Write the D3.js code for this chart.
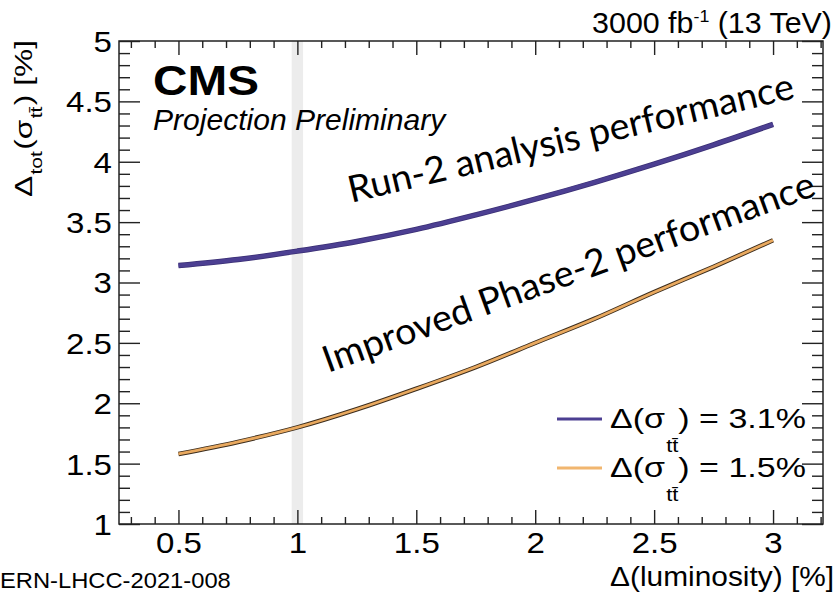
<!DOCTYPE html>
<html><head><meta charset="utf-8">
<script src="https://cdn.jsdelivr.net/npm/d3@7"></script>
<style>
body{margin:0;background:#fff}
svg{display:block}
text{font-family:"Liberation Sans",Arial,Helvetica,sans-serif;fill:#000}
</style>
</head><body>
<svg id="c" width="836" height="592"></svg>
<script>
// ---- data ----
const lumi   = [0.5, 0.75, 1.0, 1.25, 1.5, 1.75, 2.0, 2.25, 2.5, 2.75, 3.0];
const run2   = [3.14, 3.19, 3.26, 3.34, 3.44, 3.56, 3.69, 3.83, 3.98, 4.14, 4.31];
const phase2 = [1.58, 1.68, 1.80, 1.95, 2.12, 2.30, 2.50, 2.70, 2.92, 3.13, 3.35];
const xTicks = [0.5, 1, 1.5, 2, 2.5, 3];
const yTicks = [1, 1.5, 2, 2.5, 3, 3.5, 4, 4.5, 5];
const xDomain = [0.25, 3.21];
const yDomain = [1, 5];
const bandRange = [0.976, 1.024];
const legendValues = ["3.1%", "1.5%"];
const seriesNames = ["Run-2 analysis performance", "Improved Phase-2 performance"];
// annotation anchors in data units: [startLumi, startVal, endLumi, endVal]
const annotAnchors = [[1.226, 3.66, 3.097, 4.528], [1.129, 2.250, 3.189, 3.725]];

const W = 836, H = 592;
const M = {l:119, r:13, t:41, b:68};
const svg = d3.select("#c");
const x = d3.scaleLinear().domain(xDomain).range([M.l, W - M.r]);
const y = d3.scaleLinear().domain(yDomain).range([H - M.b, M.t]);

const purple = "#4c3f92", orange = "#e9a95f";

// fit helper: put text at (px,py), rotate, stretch to target width
function place(sel, px, py, angle, width, anchor){
  sel.attr("x",0).attr("y",0).attr("text-anchor", anchor || "start");
  const w = sel.node().getBBox().width;
  const s = width ? width / w : 1;
  sel.attr("transform", `translate(${px},${py}) rotate(${angle||0}) scale(${s},1)`);
}

// grey band at 1%
svg.append("rect")
  .attr("x", x(bandRange[0])).attr("y", y(yDomain[1]))
  .attr("width", x(bandRange[1]) - x(bandRange[0]))
  .attr("height", y(yDomain[0]) - y(yDomain[1]))
  .attr("fill", "#ececec");

// axes
const xMinor = d3.range(3, 33).map(d => d/10).filter(v => !xTicks.some(t => Math.abs(t - v) < 1e-6));
const yMinor = d3.range(10, 51).map(d => d/10).filter(v => !yTicks.some(t => Math.abs(t - v) < 1e-6));
const xb = y(yDomain[0]), xt = y(yDomain[1]), yl = x(xDomain[0]), yr = x(xDomain[1]);
const fmt = d3.format("~g");

function ax(axis, tr){
  const g = svg.append("g").attr("transform", tr).call(axis);
  g.select(".domain").remove();
  g.selectAll(".tick line").attr("stroke", "#222").attr("stroke-width", 1.4);
  return g;
}
const gxB = ax(d3.axisBottom(x).tickValues(xTicks).tickSizeInner(-14).tickSizeOuter(0).tickPadding(0).tickFormat(fmt), `translate(0,${xb})`);
ax(d3.axisBottom(x).tickValues(xMinor).tickSizeInner(-7).tickSizeOuter(0).tickFormat(""), `translate(0,${xb})`);
ax(d3.axisTop(x).tickValues(xTicks).tickSizeInner(-14).tickSizeOuter(0).tickFormat(""), `translate(0,${xt})`);
ax(d3.axisTop(x).tickValues(xMinor).tickSizeInner(-7).tickSizeOuter(0).tickFormat(""), `translate(0,${xt})`);
const gyL = ax(d3.axisLeft(y).tickValues(yTicks).tickSizeInner(-21).tickSizeOuter(0).tickPadding(0).tickFormat(fmt), `translate(${yl},0)`);
ax(d3.axisLeft(y).tickValues(yMinor).tickSizeInner(-11).tickSizeOuter(0).tickFormat(""), `translate(${yl},0)`);
ax(d3.axisRight(y).tickValues(yTicks).tickSizeInner(-21).tickSizeOuter(0).tickFormat(""), `translate(${yr},0)`);
ax(d3.axisRight(y).tickValues(yMinor).tickSizeInner(-11).tickSizeOuter(0).tickFormat(""), `translate(${yr},0)`);

gxB.selectAll(".tick text")
  .attr("font-size", 29).attr("font-family", null).attr("fill", "#000")
  .attr("y", 0).attr("dy", 0).attr("text-anchor", "middle")
  .attr("transform", "translate(0,29) scale(1.14,1)");
gyL.selectAll(".tick text")
  .attr("font-size", 29).attr("font-family", null).attr("fill", "#000")
  .attr("x", 0).attr("dy", "0.36em").attr("text-anchor", "end")
  .attr("transform", "translate(-7,0) scale(1.14,1)");
svg.selectAll(".tick text").style("font-family", '"Liberation Sans",Arial,sans-serif');

// frame
svg.append("rect").attr("x", yl).attr("y", xt).attr("width", yr - yl).attr("height", xb - xt)
  .attr("fill", "none").attr("stroke", "#222").attr("stroke-width", 1.5);

// curves
const line = d3.line().x(d => x(d[0])).y(d => y(d[1])).curve(d3.curveMonotoneX);
const dRun2 = lumi.map((l, i) => [l, run2[i]]);
const dPh2 = lumi.map((l, i) => [l, phase2[i]]);
svg.append("path").datum(dRun2).attr("d", line).attr("fill", "none")
  .attr("stroke", "#3a2f74").attr("stroke-width", 5.5);
svg.append("path").datum(dRun2).attr("d", line).attr("fill", "none")
  .attr("stroke", purple).attr("stroke-width", 4);
svg.append("path").datum(dPh2).attr("d", line).attr("fill", "none")
  .attr("stroke", "#3b2c1c").attr("stroke-width", 4.6);
svg.append("path").datum(dPh2).attr("d", line).attr("fill", "none")
  .attr("stroke", orange).attr("stroke-width", 2.8);

// annotations along curves
annotAnchors.forEach((a, i) => {
  const x0 = x(a[0]), y0 = y(a[1]), x1 = x(a[2]), y1 = y(a[3]);
  const ang = Math.atan2(y1 - y0, x1 - x0) * 180 / Math.PI;
  const len = Math.hypot(x1 - x0, y1 - y0);
  const t = svg.append("text").text(seriesNames[i])
    .style("font-family", 'Lato,"Open Sans",sans-serif').attr("font-weight", 400).attr("font-size", 37);
  place(t, x0, y0, ang, len, "start");
});

// CMS labels
const cms = svg.append("text").text("CMS").attr("font-size", 42).attr("font-weight", "bold");
place(cms, 153, 95, 0, 106);
const proj = svg.append("text").text("Projection Preliminary").attr("font-size", 29).attr("font-style", "italic");
place(proj, 153, 130, 0, 294);

// top right lumi label
const lum = svg.append("text").attr("font-size", 29);
lum.append("tspan").text("3000 fb");
lum.append("tspan").attr("font-size", 17).attr("dy", -11).text("-1");
lum.append("tspan").attr("dy", 11).text(" (13 TeV)");
place(lum, 832, 33, 0, 240, "end");

// x title
const xt2 = svg.append("text").text("Δ(luminosity) [%]").attr("font-size", 27);
place(xt2, 834, 586, 0, 224, "end");

// footer
const ft = svg.append("text").text("ERN-LHCC-2021-008").attr("font-size", 23);
place(ft, 0, 588, 0, 231, "start");

// y title
const yt = svg.append("text").attr("font-size", 24);
yt.append("tspan").text("Δ");
yt.append("tspan").attr("font-size", 16).attr("dy", 10).attr("dx", 1).text("tot");
yt.append("tspan").attr("dy", -10).attr("dx", 1).text("(σ");
yt.append("tspan").attr("font-size", 16).attr("dy", 10).attr("dx", 1).text("tt\u0304");
yt.append("tspan").attr("dy", -10).attr("dx", 1).text(") [%]");
place(yt, 32, 197, -90, 157, "start");

// legend
const legColors = [purple, "#f1b66f"];
const legY = [419, 468];
legendValues.forEach((v, i) => {
  svg.append("line").attr("x1", 557).attr("x2", 602).attr("y1", legY[i]).attr("y2", legY[i])
    .attr("stroke", legColors[i]).attr("stroke-width", 3.2);
  const t = svg.append("text").attr("font-size", 28);
  t.append("tspan").text("Δ(σ");
  t.append("tspan").attr("font-size", 18).attr("dy", 24).attr("dx", 1).text("tt\u0304");
  t.append("tspan").attr("dy", -24).attr("dx", 0).text(") = " + v);
  place(t, 610, legY[i] + 9, 0, 196, "start");
});
</script>
</body></html>
